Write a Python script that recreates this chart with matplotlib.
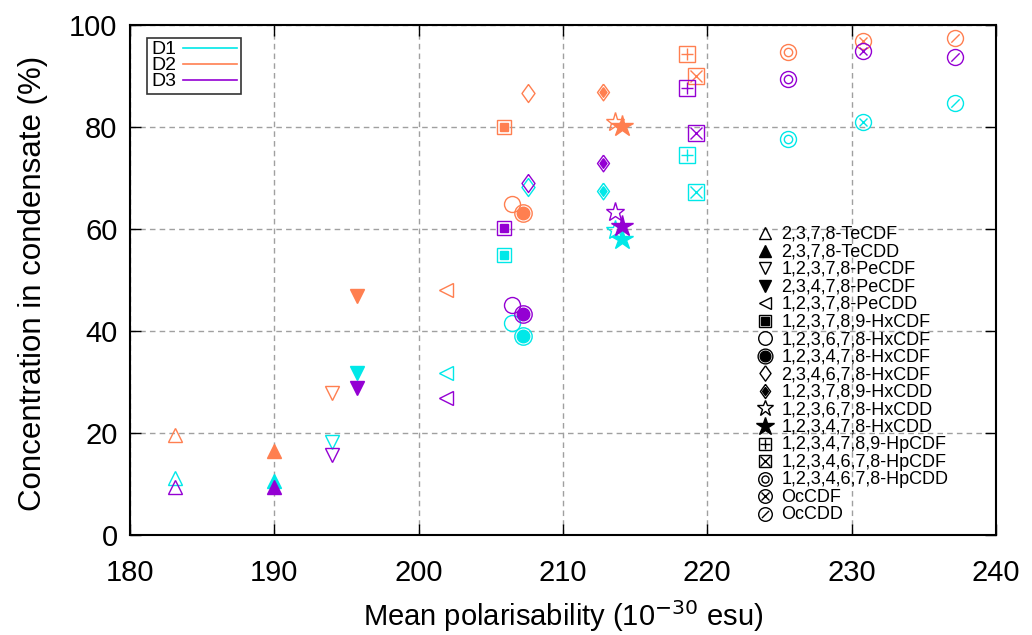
import matplotlib
matplotlib.use("Agg")
import matplotlib.pyplot as plt
from matplotlib.lines import Line2D
from matplotlib.legend_handler import HandlerTuple

plt.rcParams["font.family"] = ["Liberation Sans", "DejaVu Sans"]

# Data
compounds = ["2,3,7,8-TeCDF", "2,3,7,8-TeCDD", "1,2,3,7,8-PeCDF", "2,3,4,7,8-PeCDF",
             "1,2,3,7,8-PeCDD", "1,2,3,7,8,9-HxCDF", "1,2,3,6,7,8-HxCDF", "1,2,3,4,7,8-HxCDF",
             "2,3,4,6,7,8-HxCDF", "1,2,3,7,8,9-HxCDD", "1,2,3,6,7,8-HxCDD", "1,2,3,4,7,8-HxCDD",
             "1,2,3,4,7,8,9-HpCDF", "1,2,3,4,6,7,8-HpCDF", "1,2,3,4,6,7,8-HpCDD", "OcCDF", "OcCDD"]
polarisability = [183.1, 190.0, 194.0, 195.7, 201.9, 205.9, 206.5, 207.2, 207.6,
                  212.8, 213.6, 214.1, 218.6, 219.2, 225.6, 230.8, 237.2]
d1 = [11.2, 10.6, 18.2, 31.8, 31.8, 54.9, 41.6, 39.0, 68.2, 67.5, 59.8, 58.0, 74.5, 67.3, 77.6, 81.0, 84.7]
d2 = [19.6, 16.5, 27.8, 46.9, 48.0, 80.0, 64.9, 63.1, 86.7, 86.9, 81.0, 80.2, 94.3, 90.0, 94.7, 96.9, 97.5]
d3 = [9.4, 9.4, 15.7, 28.8, 26.9, 60.2, 45.1, 43.3, 69.0, 72.9, 63.3, 60.6, 87.6, 78.8, 89.4, 94.9, 93.7]

series = {"D1": d1, "D2": d2, "D3": d3}
colors = {"D1": "#00e8e8", "D2": "#ff7f50", "D3": "#9400d3"}

# marker shapes (gnuplot-like composite symbols): (marker, size, filled)
diamond = [(0, 1), (0.72, 0), (0, -1), (-0.72, 0), (0, 1)]
slash = [(-0.5, -0.5), (0.5, 0.5)]
styles = [
    [("^", 10, False)],
    [("^", 10, True)],
    [("v", 10, False)],
    [("v", 10, True)],
    [("<", 10, False)],
    [("s", 10, False), ("s", 6, True)],
    [("o", 11.5, False)],
    [("o", 12.5, False), ("o", 9, True)],
    [(diamond, 13, False)],
    [(diamond, 12, False), (diamond, 7, True)],
    [("*", 14, False)],
    [("*", 16, True)],
    [("s", 11, False), ("+", 9, False)],
    [("s", 11, False), ("x", 8, False)],
    [("o", 11.5, False), ("o", 6, False)],
    [("o", 11.5, False), ("x", 6, False)],
    [("o", 11.5, False), (slash, 6, False)],
]


def layer_kw(marker, size, filled, color):
    kw = dict(marker=marker, markersize=size, linestyle="none", markeredgewidth=1.0)
    if marker in ("+", "x") or marker is slash:
        kw.update(color=color)
    elif filled:
        kw.update(markerfacecolor=color, markeredgecolor=color)
    else:
        kw.update(markerfacecolor="none", markeredgecolor=color)
    return kw


fig = plt.figure(figsize=(10.32, 6.35), dpi=100)
ax = fig.add_axes([0.126, 0.1575, 0.839, 0.8035])

for name, vals in series.items():
    for i in range(len(compounds)):
        for marker, size, filled in styles[i]:
            ax.plot([polarisability[i]], [vals[i]], **layer_kw(marker, size, filled, colors[name]))

ax.set_xlim(180, 240)
ax.set_ylim(0, 100)
ax.set_xticks(range(180, 241, 10))
ax.set_yticks(range(0, 101, 20))
ax.tick_params(direction="in", length=8, width=1, top=True, right=True, labelsize=21)
ax.tick_params(axis="x", pad=17)
ax.tick_params(axis="y", pad=9)
ax.grid(True, linestyle=(0, (4, 3)), color="#a0a0a0", linewidth=1)
ax.set_axisbelow(True)
for s in ax.spines.values():
    s.set_linewidth(1.5)
ax.set_xlabel("Mean polarisability (10$^{-30}$ esu)", fontsize=21, labelpad=8)
ax.set_ylabel("Concentration in condensate (%)", fontsize=22.5, labelpad=15)
ax.yaxis.label.set_y(0.493)

# series legend (top left)
series_handles = [Line2D([], [], color=colors[n], linewidth=1.2) for n in series]
leg1 = ax.legend(series_handles, list(series), loc="upper left", bbox_to_anchor=(0.02, 0.975),
                 markerfirst=False, fontsize=14, frameon=True, fancybox=False, edgecolor="black",
                 handlelength=2.8, handleheight=0.5, labelspacing=-0.05, borderpad=0.2,
                 handletextpad=0.35, borderaxespad=0)
leg1.get_frame().set_linewidth(1.2)
ax.add_artist(leg1)

# compound symbol legend (right)
symbol_handles = []
for i in range(len(compounds)):
    parts = [Line2D([], [], **layer_kw(m, s * 0.85, f, "black")) for m, s, f in styles[i]]
    symbol_handles.append(tuple(parts))
ax.legend(symbol_handles, compounds, loc="upper left", bbox_to_anchor=(0.724, 0.606),
          handler_map={tuple: HandlerTuple(ndivide=1)}, frameon=False, fontsize=13,
          handleheight=0.5, labelspacing=0.03, handlelength=0.9, handletextpad=0.45,
          borderaxespad=0, borderpad=0)

fig.savefig("out.png", dpi=100)
